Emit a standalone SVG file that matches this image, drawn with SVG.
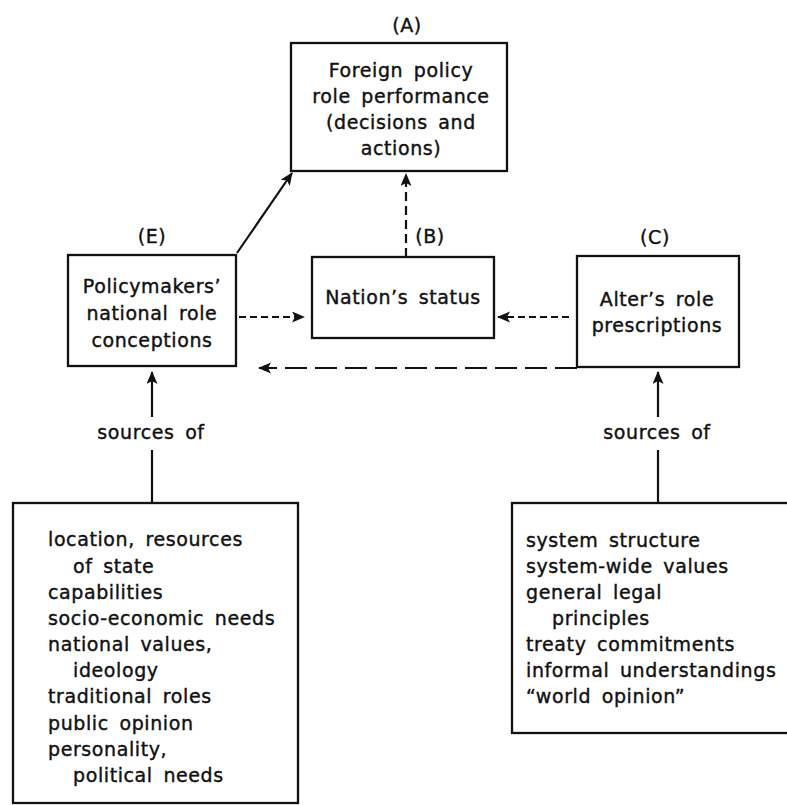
<svg xmlns="http://www.w3.org/2000/svg" width="787" height="805" viewBox="0 0 787 805">
<style>
text{font-family:"DejaVu Sans","Liberation Sans",sans-serif;font-size:19px;fill:#111;stroke:#111;stroke-width:0.4px;letter-spacing:0.6px;word-spacing:4px}
.c{text-anchor:middle}
.box{fill:none;stroke:#111;stroke-width:2.3}
.ln{fill:none;stroke:#111;stroke-width:2.2}
.d1{stroke-dasharray:7 4}
.d2{stroke-dasharray:9 5}
.d3{stroke-dasharray:22 8}
</style>
<defs>
<marker id="ah" markerUnits="userSpaceOnUse" markerWidth="14" markerHeight="12" refX="12" refY="5.5" orient="auto">
<path d="M0,0 L13,5.5 L0,11 L3,5.5 z" fill="#111"/>
</marker>
</defs>
<rect width="787" height="805" fill="#fff"/>
<g id="nodeA">
<text class="c" x="407" y="32">(A)</text>
<rect class="box" x="291" y="43" width="216" height="128"/>
<text class="c" x="401" y="77">Foreign policy</text>
<text class="c" x="401" y="103">role performance</text>
<text class="c" x="401" y="129">(decisions and</text>
<text class="c" x="401" y="155">actions)</text>
</g>
<g id="nodeE">
<text class="c" x="152" y="243">(E)</text>
<rect class="box" x="68" y="255" width="168" height="111"/>
<text class="c" x="152" y="293">Policymakers’</text>
<text class="c" x="152" y="320">national role</text>
<text class="c" x="152" y="347">conceptions</text>
</g>
<g id="nodeB">
<text class="c" x="430" y="243">(B)</text>
<rect class="box" x="312" y="257" width="182" height="81"/>
<text class="c" x="403" y="304">Nation’s status</text>
</g>
<g id="nodeC">
<text class="c" x="655" y="244">(C)</text>
<rect class="box" x="577" y="256" width="162" height="111"/>
<text class="c" x="657" y="306">Alter’s role</text>
<text class="c" x="657" y="332">prescriptions</text>
</g>
<g id="sourcesE">
<rect class="box" x="13" y="503" width="285" height="300"/>
<text x="48" y="546">location, resources</text>
<text x="73" y="573">of state</text>
<text x="48" y="599">capabilities</text>
<text x="48" y="625">socio-economic needs</text>
<text x="48" y="651">national values,</text>
<text x="73" y="677">ideology</text>
<text x="48" y="703">traditional roles</text>
<text x="48" y="730">public opinion</text>
<text x="48" y="756">personality,</text>
<text x="73" y="782">political needs</text>
</g>
<g id="sourcesC">
<rect class="box" x="512" y="503" width="290" height="230"/>
<text x="526" y="547">system structure</text>
<text x="526" y="573">system-wide values</text>
<text x="526" y="599">general legal</text>
<text x="552" y="625">principles</text>
<text x="526" y="651">treaty commitments</text>
<text x="526" y="677">informal understandings</text>
<text x="526" y="703">“world opinion”</text>
</g>
<g id="connectors">
<line class="ln" x1="237" y1="253" x2="292" y2="173" marker-end="url(#ah)"/>
<line class="ln d2" x1="406" y1="257" x2="406" y2="174" marker-end="url(#ah)"/>
<line class="ln d1" x1="239" y1="317" x2="304" y2="317" marker-end="url(#ah)"/>
<line class="ln d1" x1="569" y1="317" x2="498" y2="317" marker-end="url(#ah)"/>
<line class="ln d3" x1="577" y1="368" x2="259" y2="368" marker-end="url(#ah)"/>
<line class="ln" x1="152" y1="417" x2="152" y2="372" marker-end="url(#ah)"/>
<line class="ln" x1="152" y1="450" x2="152" y2="503"/>
<text class="c" x="151" y="439">sources of</text>
<line class="ln" x1="658" y1="417" x2="658" y2="372" marker-end="url(#ah)"/>
<line class="ln" x1="658" y1="450" x2="658" y2="503"/>
<text class="c" x="657" y="439">sources of</text>
</g>
</svg>
